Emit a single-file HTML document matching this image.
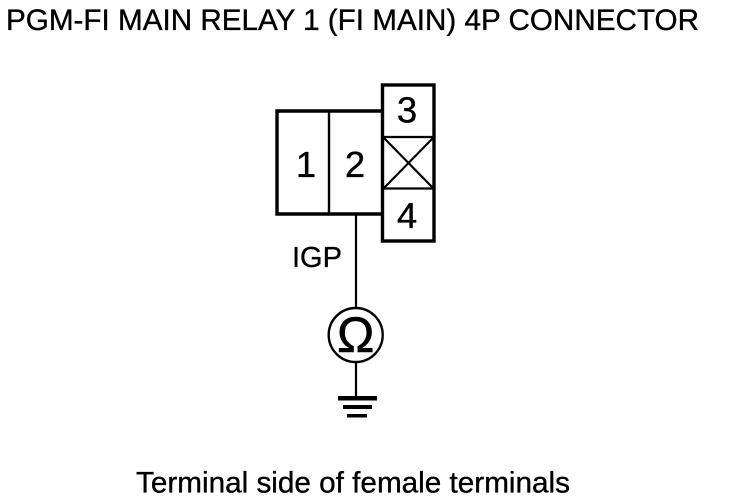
<!DOCTYPE html>
<html>
<head>
<meta charset="utf-8">
<style>
html,body{margin:0;padding:0;background:#fff}
svg{display:block}
text{font-family:"Liberation Sans",sans-serif;fill:#000;stroke:#000;stroke-width:.35px}
</style>
</head>
<body>
<svg width="736" height="500" viewBox="0 0 736 500" xmlns="http://www.w3.org/2000/svg">
<rect width="736" height="500" fill="#fff"/>
<text x="6" y="30" font-size="29.500" textLength="693" lengthAdjust="spacingAndGlyphs">PGM-FI MAIN RELAY 1 (FI MAIN) 4P CONNECTOR</text>
<g fill="none" stroke="#000">
<path d="M382.500 111H277V214H382.500" stroke-width="3.400"/>
<path d="M329 111V214" stroke-width="2.400"/>
<rect x="382.500" y="85" width="51.500" height="156" stroke-width="3.400"/>
<path d="M383 137H433M383 188.500H433" stroke-width="2.200"/>
<path d="M384 138L433 188M433 138L384 188" stroke-width="2.200"/>
<path d="M356 214V308M356 362V398" stroke-width="2.200"/>
<circle cx="355.700" cy="335" r="27" stroke-width="2.400"/>
</g>
<g fill="#000">
<rect x="338" y="396" width="39" height="4.500"/>
<rect x="343" y="405" width="29" height="4"/>
<rect x="347" y="414" width="20" height="3.500"/>
</g>
<g font-size="36.500" text-anchor="middle" style="stroke-width:.6px">
<text x="407" y="122.500">3</text>
<text x="306" y="177">1</text>
<text x="355" y="177">2</text>
<text x="407" y="228">4</text>
</g>
<text x="292" y="267" font-size="29" textLength="50" lengthAdjust="spacingAndGlyphs">IGP</text>
<text x="355.700" y="352" font-size="50" text-anchor="middle" style="stroke-width:.6px">Ω</text>
<text x="136" y="492.500" font-size="29.500" textLength="434" lengthAdjust="spacingAndGlyphs">Terminal side of female terminals</text>
</svg>
</body>
</html>
